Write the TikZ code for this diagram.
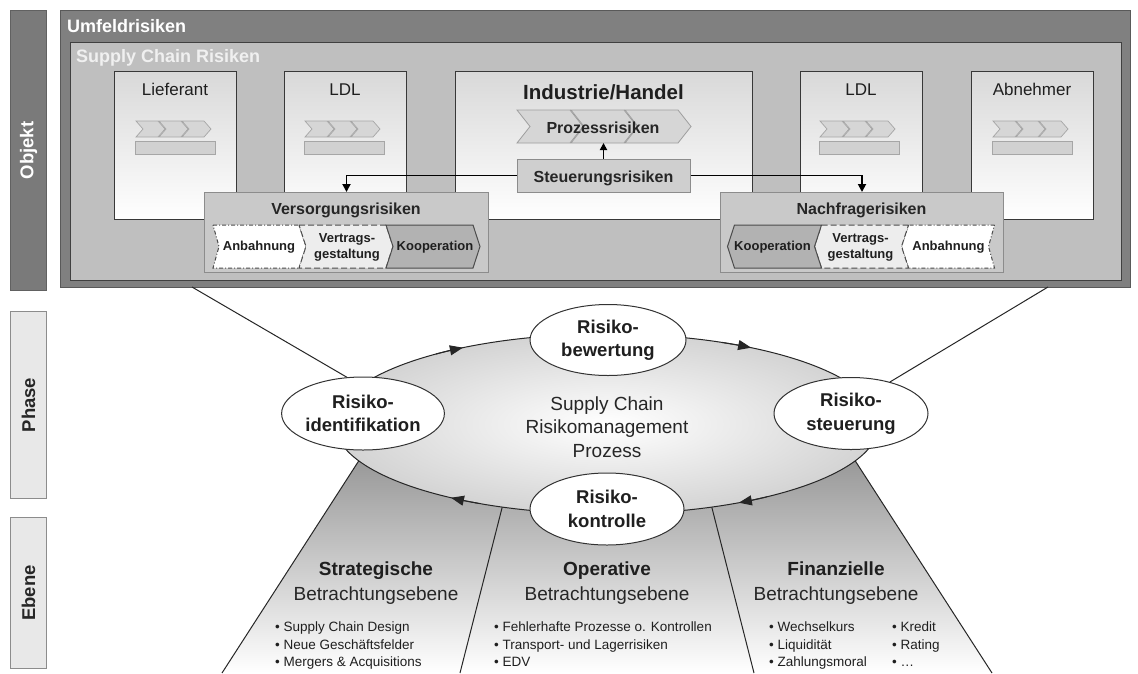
\documentclass[tikz,border=0pt]{standalone}
\usepackage{fontspec}
\setmainfont{Liberation Sans}
\usetikzlibrary{shapes.geometric,arrows.meta,calc}
\newcommand\fsz[2]{\fontsize{#1}{#2}\selectfont}
\newcommand\chevrow[1]{%
  \foreach \i in {0,1,2}{\draw[smallchev] ({#1+23*\i},121) -- ++(22,0) -- ++(7,8) -- ++(-7,8) -- ++(-22,0) -- ++(7,-8) -- cycle;}%
  \draw[smallbar] ({#1-1},141) rectangle ++(80,13);}
\begin{document}
\begin{tikzpicture}[x=1pt,y=-1pt,
  sidebar/.style={draw=black!45,line width=1pt,fill=black!9,inner sep=0,anchor=north west},
  sidetxt/.style={rotate=90,font=\fsz{18.5}{20}\bfseries,inner sep=0},
  bigbox/.style={line width=1pt,inner sep=0,anchor=north west},
  entbox/.style={draw=black!78,line width=1.3pt,top color=black!15,bottom color=white,inner sep=0,anchor=north west},
  enttxt/.style={font=\fsz{17}{20},inner sep=0,text=black!88,anchor=base},
  smallchev/.style={draw=black!35,fill=black!16,line width=0.7pt},
  smallbar/.style={draw=black!35,fill=black!18,line width=0.7pt},
  bigchev/.style={draw=black!38,fill=black!16,line width=0.8pt},
  riskbox/.style={draw=black!45,fill=black!21,line width=1pt,inner sep=0},
  risktitle/.style={font=\fsz{16}{18}\bfseries,inner sep=0,text=black!85},
  segtxt/.style={font=\fsz{13}{16}\bfseries,inner sep=0,align=center,text=black!88},
  segline/.style={draw=black!70,line width=1pt},
  conn/.style={draw=black,line width=1.8pt,-{Triangle[length=8pt,width=8pt]}},
  thinline/.style={draw=black!85,line width=1pt},
  procell/.style={ellipse,draw=black!80,line width=1pt,fill=white,inner sep=0,align=center,font=\fsz{18.5}{23.5}\bfseries,text=black!88},
  ellarr/.style={draw=black!85,line width=1pt,-{Triangle[length=13pt,width=10pt]}},
  cent/.style={font=\fsz{19}{22},inner sep=0,text=black!85,anchor=base},
  lvltitle/.style={font=\fsz{19}{22}\bfseries,inner sep=0,text=black!88,anchor=base},
  lvlsub/.style={font=\fsz{19}{22},inner sep=0,text=black!85,anchor=base},
  bul/.style={font=\fsz{13.5}{16},inner sep=0,text=black!88,anchor=base west}
]
\useasboundingbox (0,0) rectangle (1138,673);
\fill[white] (0,0) rectangle (1138,673);

% ---------- side bars
\node[sidebar,fill=black!52,draw=black!62,minimum width=36pt,minimum height=280pt] (objbar) at (10,10) {};
\node[sidetxt,text=white] (objtxt) at (objbar.center) {Objekt};
\node[sidebar,minimum width=36pt,minimum height=187pt] (phbar) at (10,311) {};
\node[sidetxt,text=black!85] (phtxt) at (phbar.center) {Phase};
\node[sidebar,minimum width=36pt,minimum height=151pt] (ebbar) at (10,517) {};
\node[sidetxt,text=black!85] (ebtxt) at (ebbar.center) {Ebene};

% ---------- object area
\node[bigbox,draw=black!65,fill=black!50,minimum width=1070pt,minimum height=277pt] (umf) at (60,10) {};
\node[inner sep=0,anchor=base west,text=white,font=\fsz{18}{20}\bfseries] (tumf) at (67,32) {Umfeldrisiken};
\node[bigbox,draw=black!75,fill=black!25,minimum width=1051pt,minimum height=238pt] (sc) at (70,42) {};
\node[inner sep=0,anchor=base west,text=black!6,font=\fsz{18}{20}\bfseries] (tsc) at (76,62) {Supply Chain Risiken};

\node[entbox,minimum width=122pt,minimum height=148pt] (lief) at (114,71) {};
\node[entbox,minimum width=122pt,minimum height=148pt] (ldla) at (284,71) {};
\node[entbox,minimum width=297pt,minimum height=148pt] (ind) at (455,71) {};
\node[entbox,minimum width=122pt,minimum height=148pt] (ldlb) at (800,71) {};
\node[entbox,minimum width=122pt,minimum height=148pt] (abn) at (971,71) {};
\node[enttxt] (tlief) at (175,95.5) {Lieferant};
\node[enttxt] (tldla) at (345,95.5) {LDL};
\node[enttxt] (tldlb) at (861,95.5) {LDL};
\node[enttxt] (tabn) at (1032,95.5) {Abnehmer};
\node[enttxt,font=\fsz{20.5}{22}\bfseries] (tind) at (603.5,99.5) {Industrie/Handel};

\chevrow{136}
\chevrow{305}
\chevrow{820}
\chevrow{993}

\foreach \i in {0,1,2}{\draw[bigchev] ({517+54*\i},110) -- ++(53,0) -- ++(13,16.5) -- ++(-13,16.5) -- ++(-53,0) -- ++(13,-16.5) -- cycle;}
\node[risktitle,anchor=base] (proz) at (603,133) {Prozessrisiken};
\coordinate (prozbot) at (603.5,143);
\node[riskbox,fill=black!19,minimum width=173pt,minimum height=33pt] (steu) at (603.5,175.5) {};
\node[risktitle,anchor=base] (tsteu) at (603.5,182) {Steuerungsrisiken};

% risk boxes
\node[riskbox,anchor=north west,minimum width=284pt,minimum height=80pt] (vers) at (204,192) {};
\node[risktitle,anchor=base] (tvers) at (346,214) {Versorgungsrisiken};
\node[riskbox,anchor=north west,minimum width=283pt,minimum height=80pt] (nach) at (720,192) {};
\node[risktitle,anchor=base] (tnach) at (861.5,214) {Nachfragerisiken};

% connectors
\draw[line width=1.8pt,-{Triangle[length=7pt,width=7pt]}] (steu.north) -- (prozbot);
\draw[conn] (steu.west) -| (vers.north);
\draw[conn] (steu.east) -| (nach.north);

% segments Versorgung
\draw[segline,fill=white,dash pattern=on 4pt off 2pt on 1pt off 2pt] (213,225) -- (299,225) -- (306,246.5) -- (299,268) -- (213,268) -- (219,246.5) -- cycle;
\draw[segline,fill=black!7,dash pattern=on 6pt off 3pt] (299,225) -- (386,225) -- (393,246.5) -- (386,268) -- (299,268) -- (306,246.5) -- cycle;
\draw[segline,fill=black!30] (386,225) -- (473,225) -- (480,246.5) -- (473,268) -- (386,268) -- (393,246.5) -- cycle;
\node[segtxt] (va) at (259,247) {Anbahnung};
\node[segtxt] (vv) at (347,247) {Vertrags-\\gestaltung};
\node[segtxt] (vk) at (435,247) {Kooperation};
% segments Nachfrage
\draw[segline,fill=white,dash pattern=on 4pt off 2pt on 1pt off 2pt] (994.5,225) -- (908.5,225) -- (901.5,246.5) -- (908.5,268) -- (994.5,268) -- (988.5,246.5) -- cycle;
\draw[segline,fill=black!7,dash pattern=on 6pt off 3pt] (908.5,225) -- (821.5,225) -- (814.5,246.5) -- (821.5,268) -- (908.5,268) -- (901.5,246.5) -- cycle;
\draw[segline,fill=black!30] (821.5,225) -- (734.5,225) -- (727.5,246.5) -- (734.5,268) -- (821.5,268) -- (814.5,246.5) -- cycle;
\node[segtxt] (na) at (948.5,247) {Anbahnung};
\node[segtxt] (nv) at (860.5,247) {Vertrags-\\gestaltung};
\node[segtxt] (nk) at (772.5,247) {Kooperation};

% ---------- levels (trapezoids)
\shade[top color=black!44,bottom color=white] (372.2,440) -- (519.3,440) -- (460,673) -- (222,673) -- cycle;
\shade[top color=black!44,bottom color=white] (519.3,440) -- (694.7,440) -- (754,673) -- (460,673) -- cycle;
\shade[top color=black!44,bottom color=white] (694.7,440) -- (841.8,440) -- (992,673) -- (754,673) -- cycle;
\draw[thinline] (372.2,440) -- (222,673);
\draw[thinline] (519.3,440) -- (460,673);
\draw[thinline] (694.7,440) -- (754,673);
\draw[thinline] (841.8,440) -- (992,673);

% ---------- process ellipse
\coordinate (C) at (607,424);
\node[ellipse,draw=black!85,line width=1pt,inner color=white,outer color=black!17,minimum width=544pt,minimum height=180pt,inner sep=0] (proc) at (C) {};
\draw[ellarr] ($(C)+(231:272 and 90)$) arc[start angle=231,end angle=238,x radius=272,y radius=90];
\draw[ellarr] ($(C)+(295:272 and 90)$) arc[start angle=295,end angle=302,x radius=272,y radius=90];
\draw[ellarr] ($(C)+(54:272 and 90)$) arc[start angle=54,end angle=61,x radius=272,y radius=90];
\draw[ellarr] ($(C)+(118:272 and 90)$) arc[start angle=118,end angle=125,x radius=272,y radius=90];
\node[cent] (c1) at (607,410) {Supply Chain};
\node[cent] (c2) at (607,433) {Risikomanagement};
\node[cent] (c3) at (607,457) {Prozess};

\node[procell,minimum width=154pt,minimum height=73pt] (rid) at (363,413.5) {Risiko-\\identifikation};
\node[procell,minimum width=156pt,minimum height=71pt] (rbew) at (608,340) {Risiko-\\bewertung};
\node[procell,minimum width=154pt,minimum height=72pt] (rst) at (851,413.5) {Risiko-\\steuerung};
\node[procell,minimum width=154pt,minimum height=72pt] (rko) at (607,509) {Risiko-\\kontrolle};

\coordinate (lineL) at (192,287);
\coordinate (lineR) at (1048,287);
\draw[thinline] (lineL) -- (rid.114);
\draw[thinline] (lineR) -- (rst.39);

% ---------- level texts
\node[lvltitle] (ts) at (376,575) {Strategische};
\node[lvlsub] (ts2) at (376,600) {Betrachtungsebene};
\node[lvltitle] (to) at (607,575) {Operative};
\node[lvlsub] (to2) at (607,600) {Betrachtungsebene};
\node[lvltitle] (tf) at (836,575) {Finanzielle};
\node[lvlsub] (tf2) at (836,600) {Betrachtungsebene};

\node[bul] (s1) at (275,631) {• Supply Chain Design};
\node[bul] (s2) at (275,649) {• Neue Geschäftsfelder};
\node[bul] (s3) at (275,666) {• Mergers \& Acquisitions};
\node[bul] (o1) at (494,631) {• Fehlerhafte Prozesse o. Kontrollen};
\node[bul] (o2) at (494,649) {• Transport- und Lagerrisiken};
\node[bul] (o3) at (494,666) {• EDV};
\node[bul] (f1) at (769,631) {• Wechselkurs};
\node[bul] (f2) at (769,649) {• Liquidität};
\node[bul] (f3) at (769,666) {• Zahlungsmoral};
\node[bul] (f4) at (892,631) {• Kredit};
\node[bul] (f5) at (892,649) {• Rating};
\node[bul] (f6) at (892,666) {• …};
\end{tikzpicture}
\end{document}
